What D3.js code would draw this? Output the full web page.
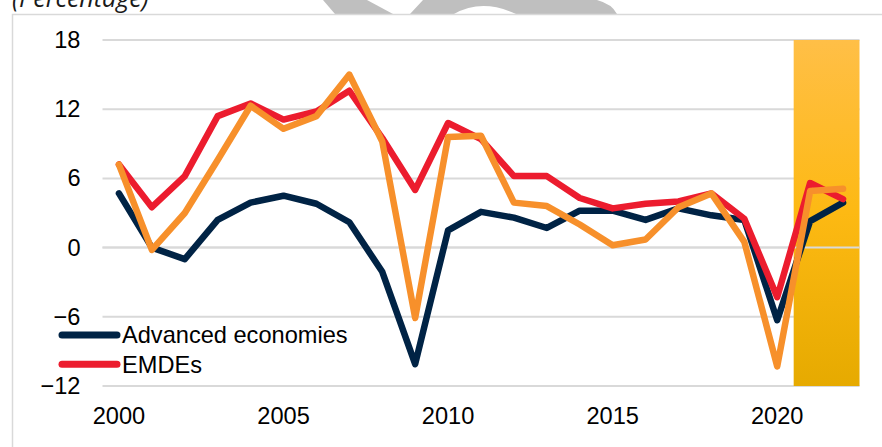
<!DOCTYPE html>
<html>
<head>
<meta charset="utf-8">
<script src="https://cdn.jsdelivr.net/npm/d3@7"></script>
<style>
  body { margin: 0; background: #fff; }
  svg { display: block; }
</style>
</head>
<body>
<script>
const years = d3.range(2000, 2023)
const advanced = [4.7, 0.0, -1.0, 2.4, 3.9, 4.5, 3.8, 2.2, -2.1, -10.1, 1.5, 3.1, 2.6, 1.7, 3.2, 3.2, 2.4, 3.4, 2.8, 2.4, -6.3, 2.3, 3.9]
const emdes = [7.2, 3.5, 6.2, 11.4, 12.5, 11.1, 11.8, 13.6, 9.5, 5.0, 10.8, 9.4, 6.2, 6.2, 4.3, 3.4, 3.8, 4.0, 4.7, 2.5, -4.3, 5.6, 4.2]
const thirdSeries = [7.2, -0.2, 3.0, 7.6, 12.3, 10.3, 11.4, 15.0, 9.2, -6.1, 9.6, 9.7, 3.9, 3.6, 2.0, 0.2, 0.7, 3.5, 4.7, 0.5, -10.3, 4.9, 5.1]
const yTicks = [-12, -6, 0, 6, 12, 18]
const xTicks = [2000, 2005, 2010, 2015, 2020]
const forecastYears = [2021, 2022]
const legendItems = [
  { name: 'Advanced economies', color: '#002345' },
  { name: 'EMDEs', color: '#EC1C2E' }
]

const w = 882
const h = 447
const fontSize = 23.6

const svg = d3.select('body')
  .append('svg')
  .attr('width', w)
  .attr('height', h)

// watermark remnants above the frame
svg.append('path')
  .attr('d', 'M323,0 L367,0 L393,14 L335,14 Z')
  .attr('fill', '#bfbfbf')
svg.append('path')
  .attr('d', 'M423,0 L597,0 Q612,4 617,14 L516,14 Q482,-2 454,14 L410,14 Z')
  .attr('fill', '#bfbfbf')

svg.append('text')
  .attr('x', 12)
  .attr('y', 7)
  .attr('font-family', 'Open Sans')
  .attr('font-style', 'italic')
  .attr('font-size', 25)
  .attr('fill', '#1a1a1a')
  .text('(Percentage)')

svg.append('rect')
  .attr('x', 12.5)
  .attr('y', 14.5)
  .attr('width', w)
  .attr('height', h)
  .attr('fill', '#fff')
  .attr('stroke', '#d9d9d9')
  .attr('stroke-width', 1.5)

const xScale = d3.scaleBand()
  .domain(years)
  .range([102.5, 859.5])

const xPos = (d) => xScale(d) + xScale.bandwidth() / 2

const yScale = d3.scaleLinear()
  .domain([-12, 18])
  .range([386, 40])

svg.append('g')
  .selectAll('line')
  .data(yTicks)
  .enter()
  .append('line')
  .attr('x1', xScale.range()[0])
  .attr('x2', xScale.range()[1])
  .attr('y1', (d) => yScale(d))
  .attr('y2', (d) => yScale(d))
  .attr('stroke', '#d9d9d9')
  .attr('stroke-width', 2)

const grad = svg.append('defs')
  .append('linearGradient')
  .attr('id', 'band')
  .attr('x1', 0).attr('x2', 0)
  .attr('y1', 0).attr('y2', 1)
grad.append('stop').attr('offset', '0%').attr('stop-color', '#FFBF47')
grad.append('stop').attr('offset', '50%').attr('stop-color', '#FDB913')
grad.append('stop').attr('offset', '100%').attr('stop-color', '#E6AA00')

svg.append('rect')
  .attr('x', xScale(forecastYears[0]))
  .attr('y', yScale(18))
  .attr('width', xScale(forecastYears[forecastYears.length - 1]) + xScale.bandwidth() - xScale(forecastYears[0]))
  .attr('height', yScale(-12) - yScale(18))
  .attr('fill', 'url(#band)')

svg.append('line')
  .attr('x1', xScale.range()[0])
  .attr('x2', xScale.range()[1])
  .attr('y1', yScale(0))
  .attr('y2', yScale(0))
  .attr('stroke', '#d9d9d9')
  .attr('stroke-width', 2)

const yAxis = d3.axisLeft(yScale)
  .tickValues(yTicks)
  .tickSize(0)
  .tickPadding(22)

const xAxis = d3.axisBottom(xScale)
  .tickValues(xTicks)
  .tickSize(0)
  .tickPadding(21)

svg.append('g')
  .attr('transform', 'translate(' + xScale.range()[0] + ',0)')
  .call(yAxis)
  .call(g => g.select('.domain').remove())
  .selectAll('text')
  .attr('font-family', 'Liberation Sans, Arial')
  .attr('font-size', fontSize)
  .attr('fill', '#000')

svg.append('g')
  .attr('transform', 'translate(0,' + yScale(-12) + ')')
  .call(xAxis)
  .call(g => g.select('.domain').remove())
  .selectAll('text')
  .attr('font-family', 'Liberation Sans, Arial')
  .attr('font-size', fontSize)
  .attr('fill', '#000')

const line = d3.line()
  .x((d, i) => xPos(years[i]))
  .y((d) => yScale(d))

const series = [
  { values: advanced, color: '#002345' },
  { values: emdes, color: '#EC1C2E' },
  { values: thirdSeries, color: '#F7902B' }
]

svg.append('g')
  .selectAll('path')
  .data(series)
  .enter()
  .append('path')
  .attr('d', (d) => line(d.values))
  .attr('fill', 'none')
  .attr('stroke', (d) => d.color)
  .attr('stroke-width', 6.5)
  .attr('stroke-linejoin', 'round')
  .attr('stroke-linecap', 'round')

const legend = svg.append('g')
  .selectAll('g')
  .data(legendItems)
  .enter()
  .append('g')
  .attr('transform', (d, i) => 'translate(62,' + (335 + i * 29.3) + ')')

legend.append('line')
  .attr('x1', 0)
  .attr('x2', 55)
  .attr('stroke', (d) => d.color)
  .attr('stroke-width', 7)
  .attr('stroke-linecap', 'round')

legend.append('text')
  .attr('x', 60)
  .attr('y', 8.3)
  .attr('font-family', 'Liberation Sans, Arial')
  .attr('font-size', fontSize)
  .attr('fill', '#000')
  .text((d) => d.name)
</script>
</body>
</html>
